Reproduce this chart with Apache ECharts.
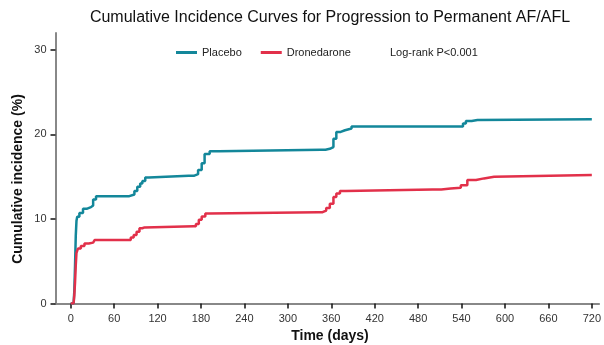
<!DOCTYPE html>
<html>
<head>
<meta charset="utf-8">
<script src="https://cdn.jsdelivr.net/npm/echarts@6/dist/echarts.min.js"></script>
<style>html,body{margin:0;padding:0;background:#fff}#c{width:604px;height:345px}</style>
</head>
<body>
<div id="c"></div>
<script>
var titleText = 'Cumulative Incidence Curves for Progression to Permanent AF/AFL';
var seriesNames = ['Placebo', 'Dronedarone'];
var xTicks = [0, 60, 120, 180, 240, 300, 360, 420, 480, 540, 600, 660, 720];
var yTicks = [0, 10, 20, 30];

var placeboDays = [0, 4, 5, 6, 7, 8, 9, 12, 17, 22, 28, 31, 35, 81, 83, 88, 92, 96, 99, 103, 108, 163, 170, 176, 181, 185, 192, 205, 346, 352, 358, 363, 367, 373, 379, 388, 537, 542, 546, 554, 562, 720];
var placeboVals = [0, 0, 1.5, 4.5, 8.0, 9.8, 10.25, 10.7, 11.2, 11.4, 11.6, 12.3, 12.7, 12.7, 12.9, 13.3, 13.8, 14.2, 14.5, 14.9, 15.1, 15.1, 15.3, 15.8, 16.6, 17.7, 18.0, 18.2, 18.2, 18.3, 18.5, 19.5, 20.3, 20.5, 20.7, 20.95, 20.95, 21.3, 21.6, 21.7, 21.8, 21.8];

var droneDays = [0, 4, 5, 6, 7, 8, 10, 14, 19, 25, 31, 33, 79, 83, 87, 91, 95, 99, 102, 170, 173, 177, 181, 186, 191, 342, 348, 353, 358, 363, 367, 372, 380, 500, 512, 525, 539, 548, 560, 571, 585, 720];
var droneVals = [0, 0, 1.0, 2.5, 4.5, 6.0, 6.5, 6.8, 7.1, 7.2, 7.4, 7.5, 7.5, 7.8, 8.1, 8.5, 8.9, 9.0, 9.15, 9.15, 9.4, 9.9, 10.3, 10.65, 10.8, 10.8, 11.0, 11.3, 11.8, 12.6, 13.0, 13.3, 13.5, 13.5, 13.6, 13.7, 14.0, 14.6, 14.8, 15.0, 15.2, 15.2];

function pairs(d, v) { return d.map(function (x, i) { return [x, v[i]]; }); }

var colors = ['#13879a', '#e2304a'];
var chart = echarts.init(document.getElementById('c'), null, {renderer: 'canvas'});
var font = '"Liberation Sans", Arial, sans-serif';

chart.setOption({
  animation: false,
  backgroundColor: '#fff',
  textStyle: {fontFamily: font},
  grid: {left: 55.5, right: 3, top: 33, bottom: 41.5},
  legend: {
    data: seriesNames,
    left: 176, top: 47, padding: 0,
    itemWidth: 21, itemHeight: 3, itemGap: 19,
    icon: 'rect',
    textStyle: {fontFamily: font, fontSize: 11, color: '#222'}
  },
  graphic: [
    {type: 'text', x: 330, y: 18, style: {text: titleText, font: '16px ' + font, fill: '#111', textAlign: 'center', textVerticalAlign: 'middle'}},
    {type: 'text', x: 390, y: 53, style: {text: 'Log-rank P<0.001', font: '11px ' + font, fill: '#222', textAlign: 'left', textVerticalAlign: 'middle'}},
    {type: 'text', x: 18, y: 179, rotation: Math.PI / 2, style: {text: 'Cumulative incidence (%)', font: 'bold 14px ' + font, fill: '#111', textAlign: 'center', textVerticalAlign: 'middle'}},
    {type: 'text', x: 330, y: 336, style: {text: 'Time (days)', font: 'bold 14px ' + font, fill: '#111', textAlign: 'center', textVerticalAlign: 'middle'}}
  ],
  xAxis: {
    type: 'value', min: -21, max: 730,
    axisLine: {show: true, onZero: false, lineStyle: {color: '#888', width: 2}},
    axisTick: {show: true, customValues: xTicks, length: 5, lineStyle: {color: '#111', width: 1.5}},
    axisLabel: {customValues: xTicks, color: '#333', fontSize: 11, margin: 10, fontFamily: font},
    splitLine: {show: false}
  },
  yAxis: {
    type: 'value', min: 0, max: 32,
    axisLine: {show: true, onZero: false, lineStyle: {color: '#888', width: 2}},
    axisTick: {show: true, customValues: yTicks, length: 5, lineStyle: {color: '#111', width: 1.5}},
    axisLabel: {customValues: yTicks, color: '#333', fontSize: 11, margin: 9, fontFamily: font},
    splitLine: {show: false}
  },
  series: [
    {name: seriesNames[0], type: 'line', step: 'end', showSymbol: false, symbol: 'none',
     data: pairs(placeboDays, placeboVals), lineStyle: {color: colors[0], width: 2.5}, itemStyle: {color: colors[0]}},
    {name: seriesNames[1], type: 'line', step: 'end', showSymbol: false, symbol: 'none',
     data: pairs(droneDays, droneVals), lineStyle: {color: colors[1], width: 2.5}, itemStyle: {color: colors[1]}}
  ]
});
</script>
</body>
</html>
